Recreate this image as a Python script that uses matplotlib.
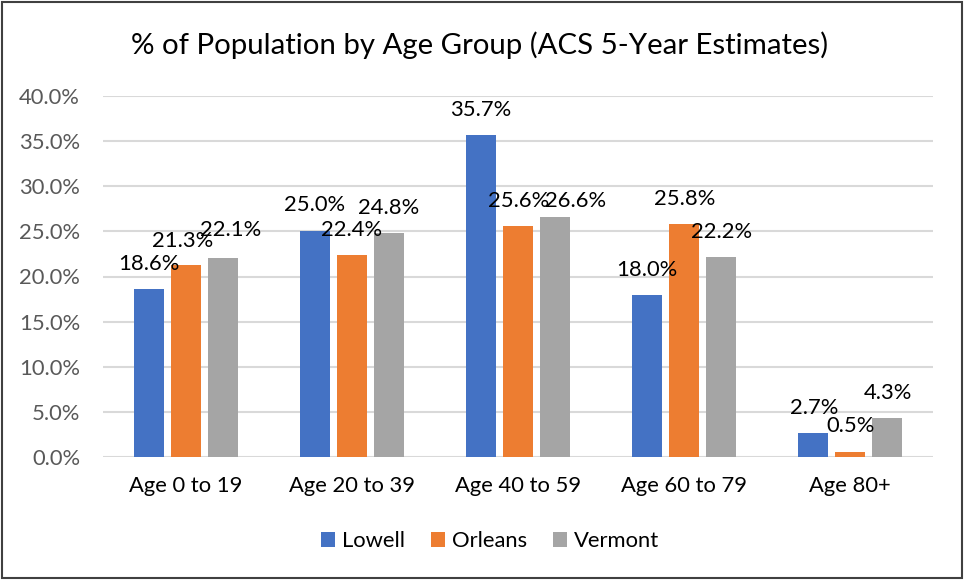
import matplotlib
matplotlib.use("Agg")
import matplotlib.pyplot as plt
from matplotlib.patches import Rectangle
import numpy as np

# data
groups = ["Age 0 to 19", "Age 20 to 39", "Age 40 to 59", "Age 60 to 79", "Age 80+"]
lowell = [18.6, 25.0, 35.7, 18.0, 2.7]
orleans = [21.3, 22.4, 25.6, 25.8, 0.5]
vermont = [22.1, 24.8, 26.6, 22.2, 4.3]
series_names = ["Lowell", "Orleans", "Vermont"]
yticks = [0, 5, 10, 15, 20, 25, 30, 35, 40]

colors = ["#4472C4", "#ED7D31", "#A5A5A5"]
# label nudges in pixels (dx, dy above bar top), per series, per group
nudges = [
    [(0, 25), (0, 26), (0, 25), (0, 25), (1, 25)],
    [(-3, 24), (0, 25), (1, 25), (1, 25), (1, 26)],
    [(8, 28), (0, 25), (21, 16), (1, 25), (1, 25)],
]

plt.rcParams['font.family'] = ['Lato', 'DejaVu Sans']
fs = 15.8

fig = plt.figure(figsize=(9.64, 5.80), dpi=100)
ax = fig.add_axes([103/964, 1-457/580, 830/964, 361/580])

x = np.arange(len(groups))
width = 0.175
step = 0.223
all_vals = [lowell, orleans, vermont]
for i, vals in enumerate(all_vals):
    pos = x + (i - 1) * step
    ax.bar(pos, vals, width, color=colors[i], label=series_names[i], zorder=3)
    for j, v in enumerate(vals):
        dx, dy = nudges[i][j]
        ax.annotate("{:.1f}%".format(v), (pos[j], v), xytext=(dx, dy),
                    textcoords="offset pixels", ha="center", va="center",
                    fontsize=fs, color="black", zorder=4)

ax.set_xlim(-0.5, len(groups) - 0.5)
ax.set_ylim(0, 40)
ax.set_yticks(yticks)
ax.set_yticklabels(["{:.1f}%".format(t) for t in yticks], color="#595959", fontsize=fs)
ax.set_xticks(x)
ax.set_xticklabels(groups, fontsize=fs, color="black")
ax.tick_params(length=0)
ax.tick_params(axis="y", pad=16.5)
ax.tick_params(axis="x", pad=14)
ax.yaxis.grid(True, color="#D9D9D9", linewidth=1.5, zorder=0)
for s in ax.spines.values():
    s.set_visible(False)

fig.text(480/964, 1-45/580, "% of Population by Age Group (ACS 5-Year Estimates)",
         ha="center", va="center", fontsize=21.2)

ax.legend(loc="center", bbox_to_anchor=(490/964, 1-541/580), bbox_transform=fig.transFigure,
          ncol=3, frameon=False, fontsize=fs, handlelength=0.65, handleheight=0.65,
          handletextpad=0.3, columnspacing=1.2)

fig.patches.append(Rectangle((2/964, 2/580), 960/964, 576/580, transform=fig.transFigure,
                             fill=False, edgecolor="#404040", linewidth=1.5))

fig.savefig("out.png", dpi=100)
